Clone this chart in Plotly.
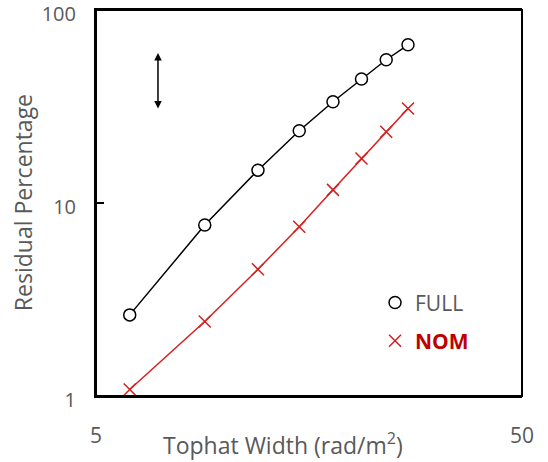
import plotly.graph_objects as go

# Tophat width (rad/m^2) and residual percentage for each model
tophat_width = [6, 9, 12, 15, 18, 21, 24, 27]
full_residual = [2.63, 7.69, 14.8, 23.7, 33.5, 43.9, 55.3, 66.1]
nom_residual = [1.08, 2.43, 4.53, 7.54, 11.7, 17.0, 23.4, 30.9]

x_ticks = [5, 50]
y_ticks = [1, 10, 100]

GRAY = "#595959"
RED_LINE = "#D81E1E"
RED_TEXT = "#C00000"
FONT = "Open Sans"

fig = go.Figure()

fig.add_trace(go.Scatter(
    x=tophat_width, y=full_residual, mode="lines+markers",
    line=dict(color="black", width=1.5),
    marker=dict(symbol="circle", size=12, color="white",
                line=dict(color="black", width=1.5)),
    showlegend=False,
))
fig.add_trace(go.Scatter(
    x=tophat_width, y=nom_residual, mode="lines+markers",
    line=dict(color=RED_LINE, width=1.5),
    marker=dict(symbol="x-thin", size=12,
                line=dict(color=RED_LINE, width=1.5)),
    showlegend=False,
))

# Marker-only legend entries
fig.add_trace(go.Scatter(
    x=[None], y=[None], mode="markers", name="FULL",
    marker=dict(symbol="circle", size=12, color="white",
                line=dict(color="black", width=1.5)),
    legendgroup="full",
))
fig.add_trace(go.Scatter(
    x=[None], y=[None], mode="markers",
    name=f"<span style='color:{RED_TEXT}'><b>NOM</b></span>",
    marker=dict(symbol="x-thin", size=12,
                line=dict(color=RED_LINE, width=1.5)),
    legendgroup="nom",
))

fig.update_xaxes(
    type="log", range=[0.69897, 1.69897], automargin=False,
    tickvals=x_ticks, ticktext=[str(v) for v in x_ticks],
    showgrid=False, zeroline=False,
    showline=True, linecolor="black", linewidth=2, mirror=True,
    ticks="", ticklabelstandoff=20, ticklabeloverflow="allow",
    tickfont=dict(family=FONT, size=21, color=GRAY),
)
fig.update_yaxes(
    type="log", range=[-0.0005, 2.0005], automargin=False,
    tickvals=y_ticks, ticktext=[str(v) for v in y_ticks],
    showgrid=False, zeroline=False,
    showline=True, linecolor="black", linewidth=2, mirror=False,
    ticks="inside", ticklen=8, tickcolor="black", tickwidth=1.5,
    ticklabelstandoff=14, ticklabelshift=4, ticklabeloverflow="allow",
    tickfont=dict(family=FONT, size=20, color=GRAY),
)

fig.update_layout(
    width=548, height=462,
    margin=dict(l=96, r=26, t=10, b=66, autoexpand=False),
    plot_bgcolor="white", paper_bgcolor="white",
    font=dict(family=FONT, size=21, color=GRAY),
    legend=dict(
        x=0.655, y=0.192, xanchor="left", yanchor="middle",
        bgcolor="rgba(0,0,0,0)", itemwidth=30,
        traceorder="grouped", tracegroupgap=8,
        font=dict(family=FONT, size=21, color=GRAY),
    ),
    shapes=[dict(type="rect", xref="paper", yref="paper",
                 x0=0, x1=1, y0=0, y1=1,
                 line=dict(color="black", width=2))],
    annotations=[
        dict(text="Tophat Width (rad/m<sup>2</sup>)", xref="paper", yref="paper",
             x=0.439, y=-0.124, xanchor="center", yanchor="middle",
             showarrow=False, font=dict(family=FONT, size=23, color=GRAY)),
        dict(text="Residual Percentage", xref="paper", yref="paper",
             x=-0.171, y=0.5, xanchor="center", yanchor="middle", textangle=-90,
             showarrow=False, font=dict(family=FONT, size=23, color=GRAY)),
        dict(text="", xref="paper", yref="paper",
             x=0.1455, y=0.8886, ax=0, ay=57, axref="pixel", ayref="pixel",
             showarrow=True, arrowside="end+start", arrowhead=2,
             arrowsize=1, arrowwidth=1.5, arrowcolor="black"),
    ],
)

fig.write_html("out.html")
